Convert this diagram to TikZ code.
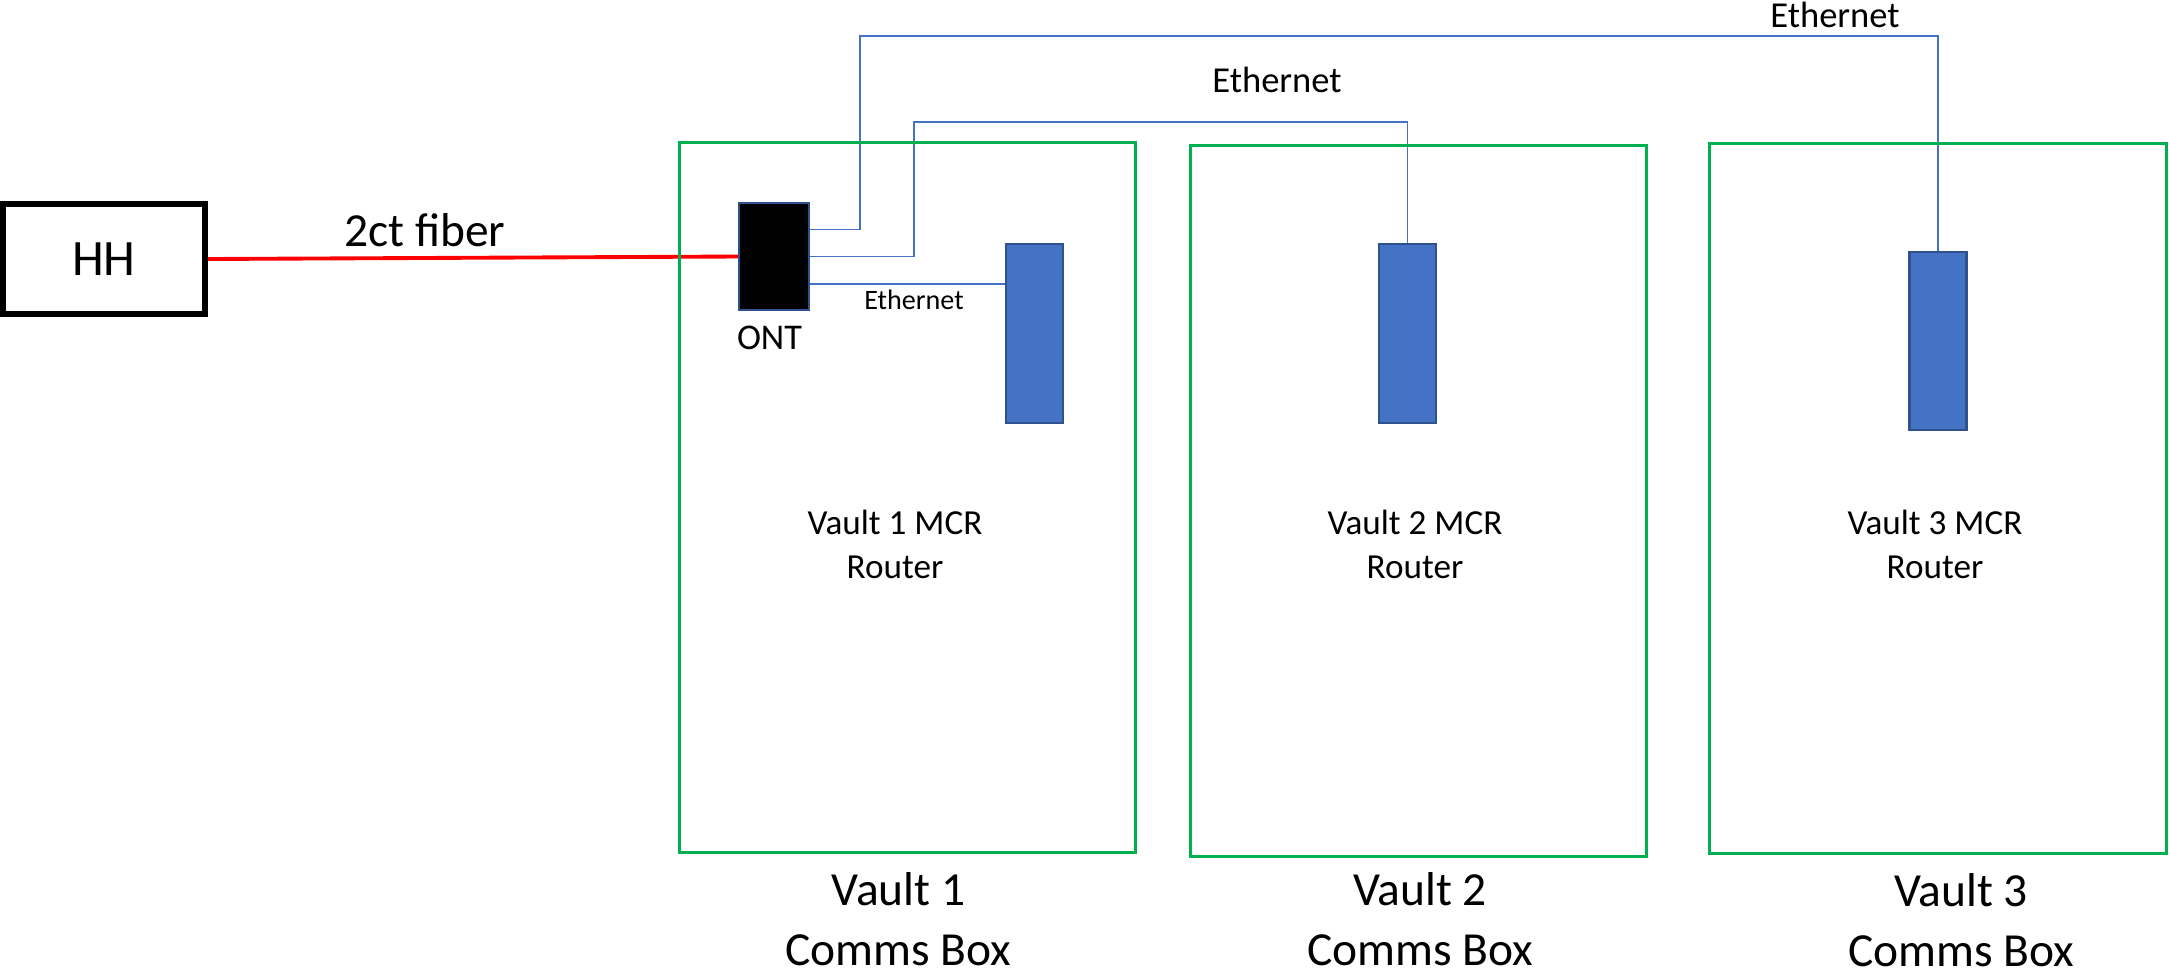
\documentclass[tikz,border=0pt]{standalone}
\usepackage{fontspec}
\setmainfont{Carlito}
\usepackage{tikz}
\usetikzlibrary{positioning, calc}
\definecolor{vaultGreen}{HTML}{00B050}
\definecolor{routerBlue}{HTML}{4472C4}
\definecolor{routerEdge}{HTML}{2F528F}
\definecolor{fiberRed}{HTML}{FF0000}

\begin{document}
\begin{tikzpicture}[
  x=0.01cm, y=-0.01cm,
  %% --- Node styles ---
  handhole/.style={
    rectangle, draw=black, line width=1.7pt, fill=white,
    minimum width=2.02cm, minimum height=1.10cm, inner sep=0pt,
    font=\fontsize{14.5}{17}\selectfont
  },
  vaultbox/.style={
    rectangle, draw=vaultGreen, line width=0.85pt,
    minimum width=4.55cm, minimum height=7.10cm, inner sep=0pt
  },
  router/.style={
    rectangle, fill=routerBlue, draw=routerEdge, line width=0.6pt,
    minimum width=0.57cm, minimum height=1.79cm, inner sep=0pt
  },
  ontbox/.style={
    rectangle, fill=black, draw=routerEdge, line width=0.5pt,
    minimum width=0.70cm, minimum height=1.07cm, inner sep=0pt
  },
  lbl/.style={inner sep=0pt, anchor=base, align=center},
  biglbl/.style={lbl, font=\fontsize{13.5}{16.8}\selectfont},
  midlbl/.style={lbl, font=\fontsize{10}{12.5}\selectfont},
  smalllbl/.style={lbl, font=\fontsize{8}{10}\selectfont},
  %% --- Connector styles ---
  fiber/.style={draw=fiberRed, line width=1.1pt},
  eth/.style={draw=routerBlue, line width=0.45pt}
]
\useasboundingbox (0,0) rectangle (2169,975);

%% =========================================================
%% DEVICES
%% =========================================================
\node (hh)  [handhole] at (104,259)    {HH};
\node (ont) [ontbox]   at (774,256.5)  {};
\node (r1)  [router]   at (1034.5,333.5) {};
\node (r2)  [router]   at (1407.5,333.5) {};
\node (r3)  [router, minimum height=1.78cm] at (1938,341) {};

%% ONT ports and cable bends
\coordinate (portA) at ($(ont.north east)!0.25!(ont.south east)$);
\coordinate (portB) at (ont.east);
\coordinate (portC) at ($(ont.north east)!0.75!(ont.south east)$);
\coordinate (bendA) at (860,36);
\coordinate (bendB) at (914,122);

%% =========================================================
%% CABLES
%% =========================================================
\draw[fiber] (hh.east) -- (ont.west);
\draw[eth] (portA) -| (bendA) -| (r3.north);
\draw[eth] (portB) -| (bendB) -| (r2.north);
\draw[eth] (portC) -- (portC -| r1.west);

%% =========================================================
%% COMMS BOXES
%% =========================================================
\node (vault1) [vaultbox] at (907.5,497.5) {};
\node (vault2) [vaultbox] at (1418.5,501) {};
\node (vault3) [vaultbox, minimum width=4.56cm] at (1938,498.5) {};

%% =========================================================
%% LABELS (multi-line ones sit on their last baseline)
%% =========================================================
\node (fiberLbl) [biglbl]   at (425,246)  {2ct fiber};
\node (ontLbl)   [lbl, font=\fontsize{10.3}{12}\selectfont] at (769.5,349) {ONT};
\node (ethA)     [midlbl, font=\fontsize{10.4}{12}\selectfont] at (1835,27) {Ethernet};
\node (ethB)     [midlbl, font=\fontsize{10.4}{12}\selectfont] at (1277,92) {Ethernet};
\node (ethC)     [smalllbl] at (914,309) {Ethernet};

\node (mcr1) [midlbl] at (895,578)  {Vault 1 MCR\\Router};
\node (mcr2) [midlbl] at (1415,578) {Vault 2 MCR\\Router};
\node (mcr3) [midlbl] at (1935,578) {Vault 3 MCR\\Router};

\node (box1) [biglbl] at (898.5,965) {Vault 1\\Comms Box};
\node (box2) [biglbl] at (1420,965)  {Vault 2\\Comms Box};
\node (box3) [biglbl] at (1961,966)  {Vault 3\\Comms Box};

\end{tikzpicture}
\end{document}
